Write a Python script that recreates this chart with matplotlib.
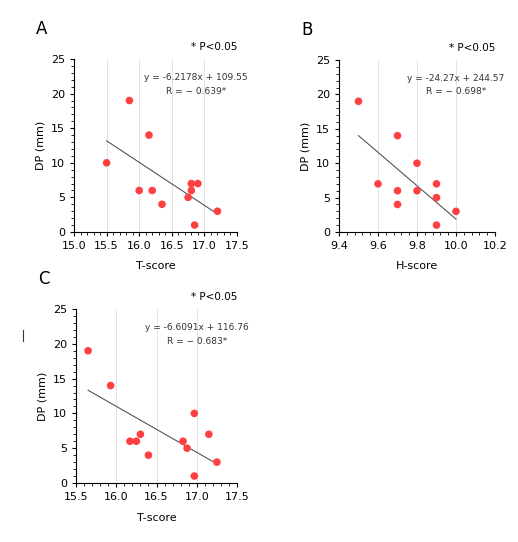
import matplotlib
matplotlib.use("Agg")
import matplotlib.pyplot as plt
import numpy as np
from matplotlib.ticker import MultipleLocator, AutoMinorLocator
from matplotlib.lines import Line2D

ax_x = [15.5, 15.85, 16.0, 16.15, 16.2, 16.35, 16.75, 16.8, 16.8, 16.9, 16.85, 17.2]
ay = [10, 19, 6, 14, 6, 4, 5, 6, 7, 7, 1, 3]
bx = [9.5, 9.6, 9.7, 9.7, 9.7, 9.8, 9.8, 9.9, 9.9, 9.9, 10.0]
by = [19, 7, 14, 6, 4, 10, 6, 7, 5, 1, 3]
cx = [15.65, 15.93, 16.17, 16.25, 16.3, 16.4, 16.83, 16.88, 16.97, 16.97, 17.15, 17.25]
cy = [19, 14, 6, 6, 7, 4, 6, 5, 10, 1, 7, 3]

W, H = 518, 542
fig = plt.figure(figsize=(W/100, H/100), dpi=100)
fig.patch.set_facecolor("white")

def panel(rect, xs, ys, slope, icpt, xlim, xstep, xfmt, xlabel, eq, rtxt, letter, xlabpos):
    l, t, r, b = rect
    ax = fig.add_axes([l/W, 1-b/H, (r-l)/W, (b-t)/H])
    ax.scatter(xs, ys, s=30, color="#ff4040", zorder=3, edgecolors="none")
    xl = np.array([min(xs), max(xs)])
    ax.plot(xl, slope*xl+icpt, color="#555555", lw=0.8, zorder=2)
    ax.set_xlim(*xlim); ax.set_ylim(0, 25)
    ax.xaxis.set_major_locator(MultipleLocator(xstep))
    ax.yaxis.set_major_locator(MultipleLocator(5))
    ax.xaxis.set_minor_locator(AutoMinorLocator(5))
    ax.yaxis.set_minor_locator(AutoMinorLocator(5))
    ax.xaxis.set_major_formatter(plt.FormatStrFormatter(xfmt))
    ax.grid(axis="x", color="#e3e3e3", lw=0.7)
    for s in ("top", "right"):
        ax.spines[s].set_visible(False)
    ax.tick_params(labelsize=8, length=3, direction="out")
    ax.tick_params(which="minor", length=2)
    ax.set_ylabel("DP (mm)", fontsize=8)
    ax.text(0.75, 0.88, eq, transform=ax.transAxes, fontsize=6.5, ha="center", color="#333333")
    ax.text(0.75, 0.80, rtxt, transform=ax.transAxes, fontsize=6.5, ha="center", color="#333333")
    fig.text(r/W, 1-(t-12)/H, "* P<0.05", fontsize=7.5, ha="right", va="center")
    fig.text((l-38)/W, 1-(t-30)/H, letter, fontsize=12, va="center")
    fig.text((l+r)/2/W, 1-xlabpos/H, xlabel, fontsize=8, ha="center", va="center")
    return ax

panel((74, 59, 237, 232), ax_x, ay, -6.2178, 109.55, (15.0, 17.5), 0.5, "%.1f", "T-score",
      "y = -6.2178x + 109.55", "R = \u2212 0.639*", "A", 266)
panel((339, 60, 495, 232), bx, by, -24.27, 244.57, (9.4, 10.2), 0.2, "%.1f", "H-score",
      "y = -24.27x + 244.57", "R = \u2212 0.698*", "B", 266)
panel((76, 309, 237, 483), cx, cy, -6.6091, 116.76, (15.5, 17.5), 0.5, "%.1f", "T-score",
      "y = -6.6091x + 116.76", "R = \u2212 0.683*", "C", 518)
fig.add_artist(Line2D([23/W, 23/W], [1-330/H, 1-341/H], color="#333333", lw=0.8))
fig.savefig("out.png", dpi=100)
